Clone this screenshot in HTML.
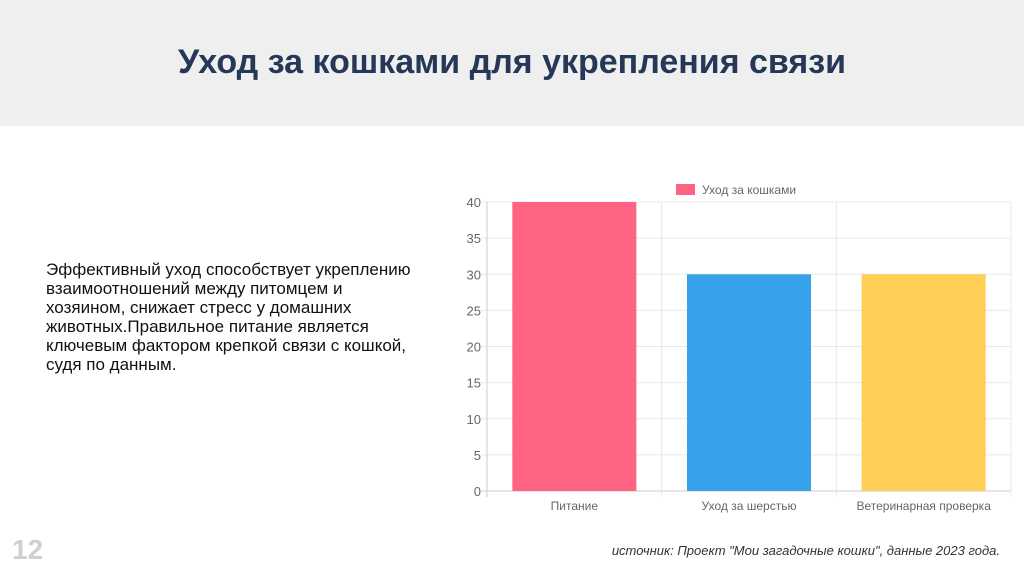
<!DOCTYPE html>
<html><head><meta charset="utf-8">
<style>
body{margin:0;width:1024px;height:576px;background:#fff;position:relative;overflow:hidden;font-family:"Liberation Sans","Noto Sans CJK SC",sans-serif}
#hdr{position:absolute;left:0;top:0;width:1024px;height:126px;background:#efefef}
#title{position:absolute;left:0;width:1024px;top:43px;text-align:center;font-size:34px;font-weight:bold;color:#253858}
#desc{position:absolute;left:46px;top:260px;width:420px;font-size:17px;line-height:19px;color:#111;white-space:nowrap}
#num{position:absolute;left:12px;top:534px;font-size:28px;font-weight:bold;color:#d0d0d0}
#src{position:absolute;right:24px;top:543px;font-size:13px;font-style:italic;color:#333}
svg{position:absolute;left:0;top:0}
</style></head><body>
<div id="hdr"></div>
<div id="title">Уход за кошками для укрепления связи</div>
<div id="desc">Эффективный уход способствует укреплению<br>взаимоотношений между питомцем и<br>хозяином, снижает стресс у домашних<br>животных.Правильное питание является<br>ключевым фактором крепкой связи с кошкой,<br>судя по данным.</div>
<div id="num">12</div>
<div id="src">источник: Проект "Мои загадочные кошки", данные 2023 года.</div>
<svg id="chart" width="1024" height="576"></svg>
<script>
const categories=["Питание","Уход за шерстью","Ветеринарная проверка"];
const values=[40,30,30];
const colors=["#ff6384","#36a2eb","#ffce56"];
const yTicks=[0,5,10,15,20,25,30,35,40];
const seriesName="Уход за кошками";
const svg=document.getElementById('chart');
const NS="http://www.w3.org/2000/svg";
const x0=487,x1=1011,yTop=202,yBot=491,yMax=40;
const y=v=>yBot-(v/yMax)*(yBot-yTop);
const bw=(x1-x0)/categories.length;
function mk(t,a){const e=document.createElementNS(NS,t);for(const k in a)e.setAttribute(k,a[k]);svg.appendChild(e);return e;}
yTicks.forEach(t=>{
 const l=mk('line',{x1:x0-6,x2:x1,y1:y(t),y2:y(t),stroke:t===0?'#ccc':'#e8e8e8','stroke-width':1});
 
 
 const tx=mk('text',{x:x0-6,y:y(t)+5,'text-anchor':'end','font-size':13,fill:'#666','font-family':'Liberation Sans'});
 tx.textContent=t;
 
 
});
for(let i=0;i<=categories.length;i++){
 const l=mk('line',{x1:x0+i*bw,x2:x0+i*bw,y1:yTop,y2:yBot+6,stroke:i===0?'#ccc':'#e8e8e8','stroke-width':1});
 
 
}
categories.forEach((c,i)=>{
 const bx=x0+i*bw+bw*0.145, w=bw*0.71;
 const r=mk('rect',{x:bx,y:y(values[i]),width:w,height:yBot-y(values[i]),fill:colors[i]});
 
 
 const tx=mk('text',{x:x0+i*bw+bw/2,y:510,'text-anchor':'middle','font-size':12,fill:'#666','font-family':'Liberation Sans'});
 tx.textContent=c;
 
 
});
const lg=mk('rect',{x:676,y:184,width:19,height:11,fill:colors[0]});


const lt=mk('text',{x:702,y:194,'font-size':12,fill:'#666','font-family':'Liberation Sans'});
lt.textContent=seriesName;


</script>
</body></html>
